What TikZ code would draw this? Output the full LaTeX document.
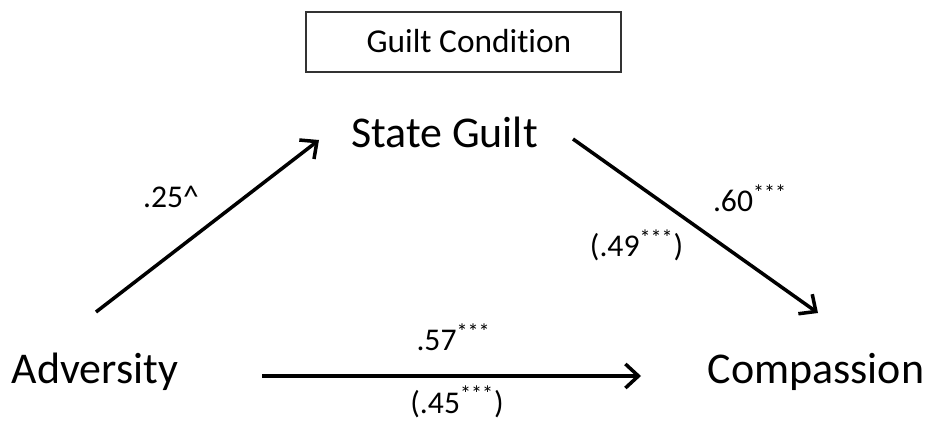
\documentclass[tikz,border=0pt]{standalone}
\usepackage{fontspec}
\setmainfont{Carlito}[Ligatures=NoCommon]
\usetikzlibrary{arrows.meta,positioning}

\begin{document}
\begin{tikzpicture}[x=0.02cm,y=-0.02cm,
    >={Straight Barb[length=2.6mm,width=4.8mm]},
    var/.style={inner sep=0pt,anchor=base,font=\fontsize{25}{30}\selectfont},
    coef/.style={inner sep=0pt,anchor=base,font=\fontsize{18}{22}\selectfont},
    cond/.style={rectangle,draw=black!80,line width=0.7pt,
      minimum width=6.3cm,minimum height=1.2cm},
    effect/.style={->,line width=2pt}]
\useasboundingbox (0,0) rectangle (930,422);
\node[cond] (cond) at (463.5,42) {};
\node[coef,font=\fontsize{19}{23}\selectfont] (condtext) at (469,53) {Guilt Condition};
\node[var] (guilt) at (444.5,148) {State Guilt};
\node[var] (adv) at (95,383) {Adversity};
\node[var] (comp) at (816,383) {Compassion};
% ends of the paths
\coordinate (advup) at (96,312);
\coordinate (guiltin) at (319,140);
\coordinate (guiltout) at (573,139);
\coordinate (compin) at (818,313);
\coordinate (advout) at (262,376);
\coordinate (compleft) at (641,376);
\draw[effect] (advup) -- (guiltin);
\draw[effect] (guiltout) -- (compin);
\draw[effect] (advout) -- (compleft);
\node[coef] (a) at (171,208) {.25\textasciicircum};
\node[coef] (b) at (750,212) {.60\textsuperscript{***}};
\node[coef] (bc) at (636.5,257) {(.49\textsuperscript{***})};
\node[coef] (c) at (453.5,351) {.57\textsuperscript{***}};
\node[coef] (cc) at (457,413) {(.45\textsuperscript{***})};
\end{tikzpicture}
\end{document}
